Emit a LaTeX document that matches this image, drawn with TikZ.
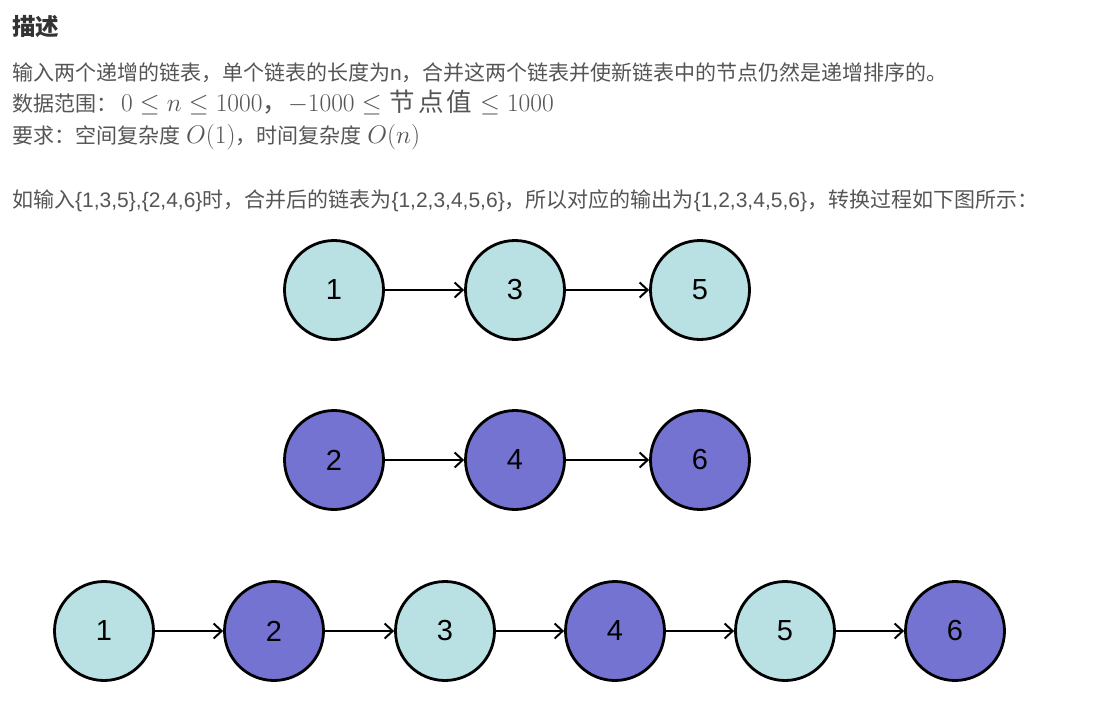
\RequirePackage{fix-cm}
\documentclass[tikz,border=0pt]{standalone}
\usepackage[no-math]{fontspec}
\setmainfont{Liberation Sans}
\newfontfamily\cjk{Noto Sans CJK SC}
\usetikzlibrary{arrows.meta}
\definecolor{tealfill}{HTML}{B9E0E3}
\definecolor{violetfill}{HTML}{7573D1}
\definecolor{bodytext}{HTML}{555555}
\definecolor{headtext}{HTML}{333333}
\tikzset{
  listnode/.style={circle, draw=black, line width=2.8pt, minimum size=99pt, inner sep=0pt,
    font=\fontsize{29}{32}\selectfont, text=black},
  nodeA/.style={listnode, fill=tealfill},
  nodeB/.style={listnode, fill=violetfill},
  link/.style={line width=2pt, -{Straight Barb[length=8pt,width=15pt,line width=2pt]}},
  bodyline/.style={anchor=base west, inner sep=0pt, text=bodytext,
    font=\fontsize{21}{24}\selectfont},
}
\newcommand\mathbig[1]{{\fontsize{25.5}{28}\selectfont #1}}
\begin{document}
\begin{tikzpicture}[x=1pt, y=-1pt]
  \useasboundingbox[fill=white] (0,0) rectangle (1101,715);

  % heading and description
  \node[anchor=base west, inner sep=0pt, text=headtext, font=\fontsize{23.5}{26}\selectfont\cjk\bfseries] (title) at (12,35) {描述};
  \node[bodyline] (l1) at (12,80) {{\cjk 输入两个递增的链表，单个链表的长度为}n{\cjk ，合并这两个链表并使新链表中的节点仍然是递增排序的。}};
  \node[bodyline] (l2) at (12,111) {{\cjk 数据范围：}\hspace{4pt}\mathbig{$0\le n\le 1000${\cjk ，}$-1000\le$\hspace{8pt}{\cjk 节\hspace{3pt}点\hspace{3pt}值}\hspace{8pt}$\le 1000$}};
  \node[bodyline] (l3) at (12,143) {{\cjk 要求：空间复杂度} \mathbig{$O(1)$}{\cjk ，时间复杂度} \mathbig{$O(n)$}};
  \node[bodyline] (l4) at (12,207) {{\cjk 如输入}\{1,3,5\},\{2,4,6\}{\cjk 时，合并后的链表为}\{1,2,3,4,5,6\}{\cjk ，所以对应的输出为}\{1,2,3,4,5,6\}{\cjk ，转换过程如下图所示：}};

  % first list
  \node[nodeA] (a1) at (334,290) {1};
  \node[nodeA] (a3) at (515,290) {3};
  \node[nodeA] (a5) at (700,290) {5};
  \draw[link] (a1) -- (a3);
  \draw[link] (a3) -- (a5);

  % second list
  \node[nodeB] (b2) at (334,460) {2};
  \node[nodeB] (b4) at (515,460) {4};
  \node[nodeB] (b6) at (700,460) {6};
  \draw[link] (b2) -- (b4);
  \draw[link] (b4) -- (b6);

  % merged list
  \node[nodeA] (m1) at (104,631) {1};
  \node[nodeB] (m2) at (274,631) {2};
  \node[nodeA] (m3) at (445,631) {3};
  \node[nodeB] (m4) at (615,631) {4};
  \node[nodeA] (m5) at (785,631) {5};
  \node[nodeB] (m6) at (955,631) {6};
  \draw[link] (m1) -- (m2);
  \draw[link] (m2) -- (m3);
  \draw[link] (m3) -- (m4);
  \draw[link] (m4) -- (m5);
  \draw[link] (m5) -- (m6);
\end{tikzpicture}
\end{document}
